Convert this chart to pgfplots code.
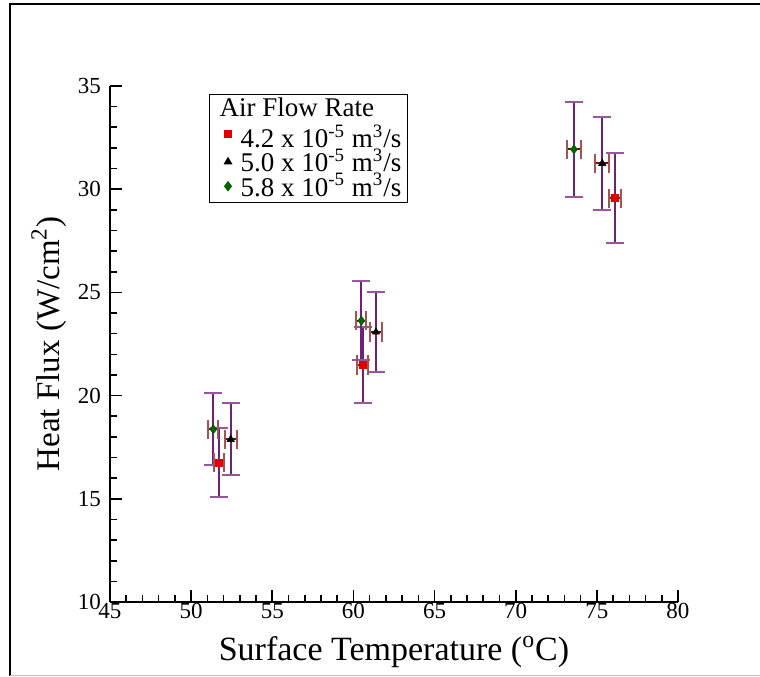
\documentclass[border=0pt]{standalone}
\usepackage{fontspec}
\setmainfont{Liberation Serif}
\usepackage{pgfplots}
\usepackage{pgfplotstable}
\pgfplotsset{compat=1.18}
\definecolor{ebpurple}{HTML}{70207A}
\definecolor{ebred}{HTML}{7A0A0A}
\definecolor{ptred}{HTML}{E00000}
\definecolor{ptgreen}{HTML}{006400}

% x y ex ey
\pgfplotstableread{
x y ex ey
51.73 16.75 0.32 1.68
60.57 21.48 0.32 1.86
76.11 29.56 0.38 2.19
}\lowflow
\pgfplotstableread{
x y ex ey
52.44 17.88 0.36 1.75
61.39 23.08 0.36 1.94
75.33 31.25 0.44 2.27
}\midflow
\pgfplotstableread{
x y ex ey
51.37 18.37 0.31 1.74
60.49 23.63 0.31 1.92
73.59 31.93 0.43 2.30
}\highflow

\pgfplotsset{
  vbars/.style={forget plot, draw=none, mark=none,
    error bars/.cd, y dir=both, y explicit,
    error bar style={ebpurple, line width=1pt},
    error mark options={rotate=90, ebpurple!75, line width=1pt, mark size=4.5pt}},
  hbars/.style={forget plot, draw=none, mark=none,
    error bars/.cd, x dir=both, x explicit,
    error bar style={ebred, line width=1pt},
    error mark options={rotate=90, ebred!70, line width=1pt, mark size=4.8pt}},
}

\begin{document}
\begin{tikzpicture}
% page frame (picture is 760x676 px at 0.5pt per px, axis corner at px 110,602)
\path[use as bounding box] (-55pt,-37pt) rectangle (325pt,301pt);
\draw[black, line width=1.3pt] (-50pt,-37pt) -- (-50pt,299pt) -- (325pt,299pt);
\draw[gray!50, line width=0.5pt] (-50pt,-36.5pt) -- (325pt,-36.5pt);
\begin{axis}[
    scale only axis,
    width=284pt, height=258pt,
    xmin=45, xmax=80, ymin=10, ymax=35,
    axis x line*=bottom, axis y line*=left,
    axis line style={line width=1pt, -},
    xtick={45,50,...,80}, ytick={10,15,...,35},
    minor x tick num=4, minor y tick num=4,
    tick align=inside,
    major tick length=6pt, minor tick length=3.5pt,
    tick style={black, line width=0.8pt},
    /pgf/number format/assume math mode=true,
    ticklabel style={font=\fontsize{11.5}{12}\selectfont},
    xticklabel style={yshift=3pt},
    yticklabel style={xshift=-1pt},
    xlabel={Surface Temperature (\textsuperscript{o}C)},
    ylabel={Heat Flux (W/cm\textsuperscript{2})},
    label style={font=\fontsize{17}{19}\selectfont},
    xlabel style={yshift=-2pt},
    ylabel style={font=\fontsize{16.5}{18}\selectfont, yshift=-1pt},
    clip=false,
    legend cell align=left,
    legend style={at={(0.174,0.985)}, anchor=north west, draw=black, line width=0.6pt,
        font=\fontsize{13.5}{15}\selectfont, inner sep=1pt, row sep=-1.8pt,
        nodes={inner ysep=0.5pt, inner xsep=2pt}},
    legend image code/.code={\path (0pt,0pt) (12pt,0pt); \draw plot coordinates {(8pt,0pt)};},
]
\addlegendimage{empty legend}
\addlegendentry{\hspace{-10.5pt}Air Flow Rate}
% vertical error bars
\addplot[vbars] table[x=x, y=y, y error=ey] {\lowflow};
\addplot[vbars] table[x=x, y=y, y error=ey] {\midflow};
\addplot[vbars] table[x=x, y=y, y error=ey] {\highflow};
% horizontal error bars
\addplot[hbars] table[x=x, y=y, x error=ex] {\lowflow};
\addplot[hbars] table[x=x, y=y, x error=ex] {\midflow};
\addplot[hbars] table[x=x, y=y, x error=ex] {\highflow};
% markers
\addplot[only marks, mark=square*, mark size=1.8pt, color=ptred] table[x=x, y=y] {\lowflow};
\addlegendentry{\rule{0pt}{15pt}4.2 x 10\textsuperscript{-5} m\textsuperscript{3}/s}
\addplot[only marks, mark=triangle*, mark size=2pt, color=black] table[x=x, y=y] {\midflow};
\addlegendentry{5.0 x 10\textsuperscript{-5} m\textsuperscript{3}/s}
\addplot[only marks, mark=diamond*, mark size=2.2pt, color=ptgreen] table[x=x, y=y] {\highflow};
\addlegendentry{5.8 x 10\textsuperscript{-5} m\textsuperscript{3}/s}
\end{axis}
\end{tikzpicture}
\end{document}
